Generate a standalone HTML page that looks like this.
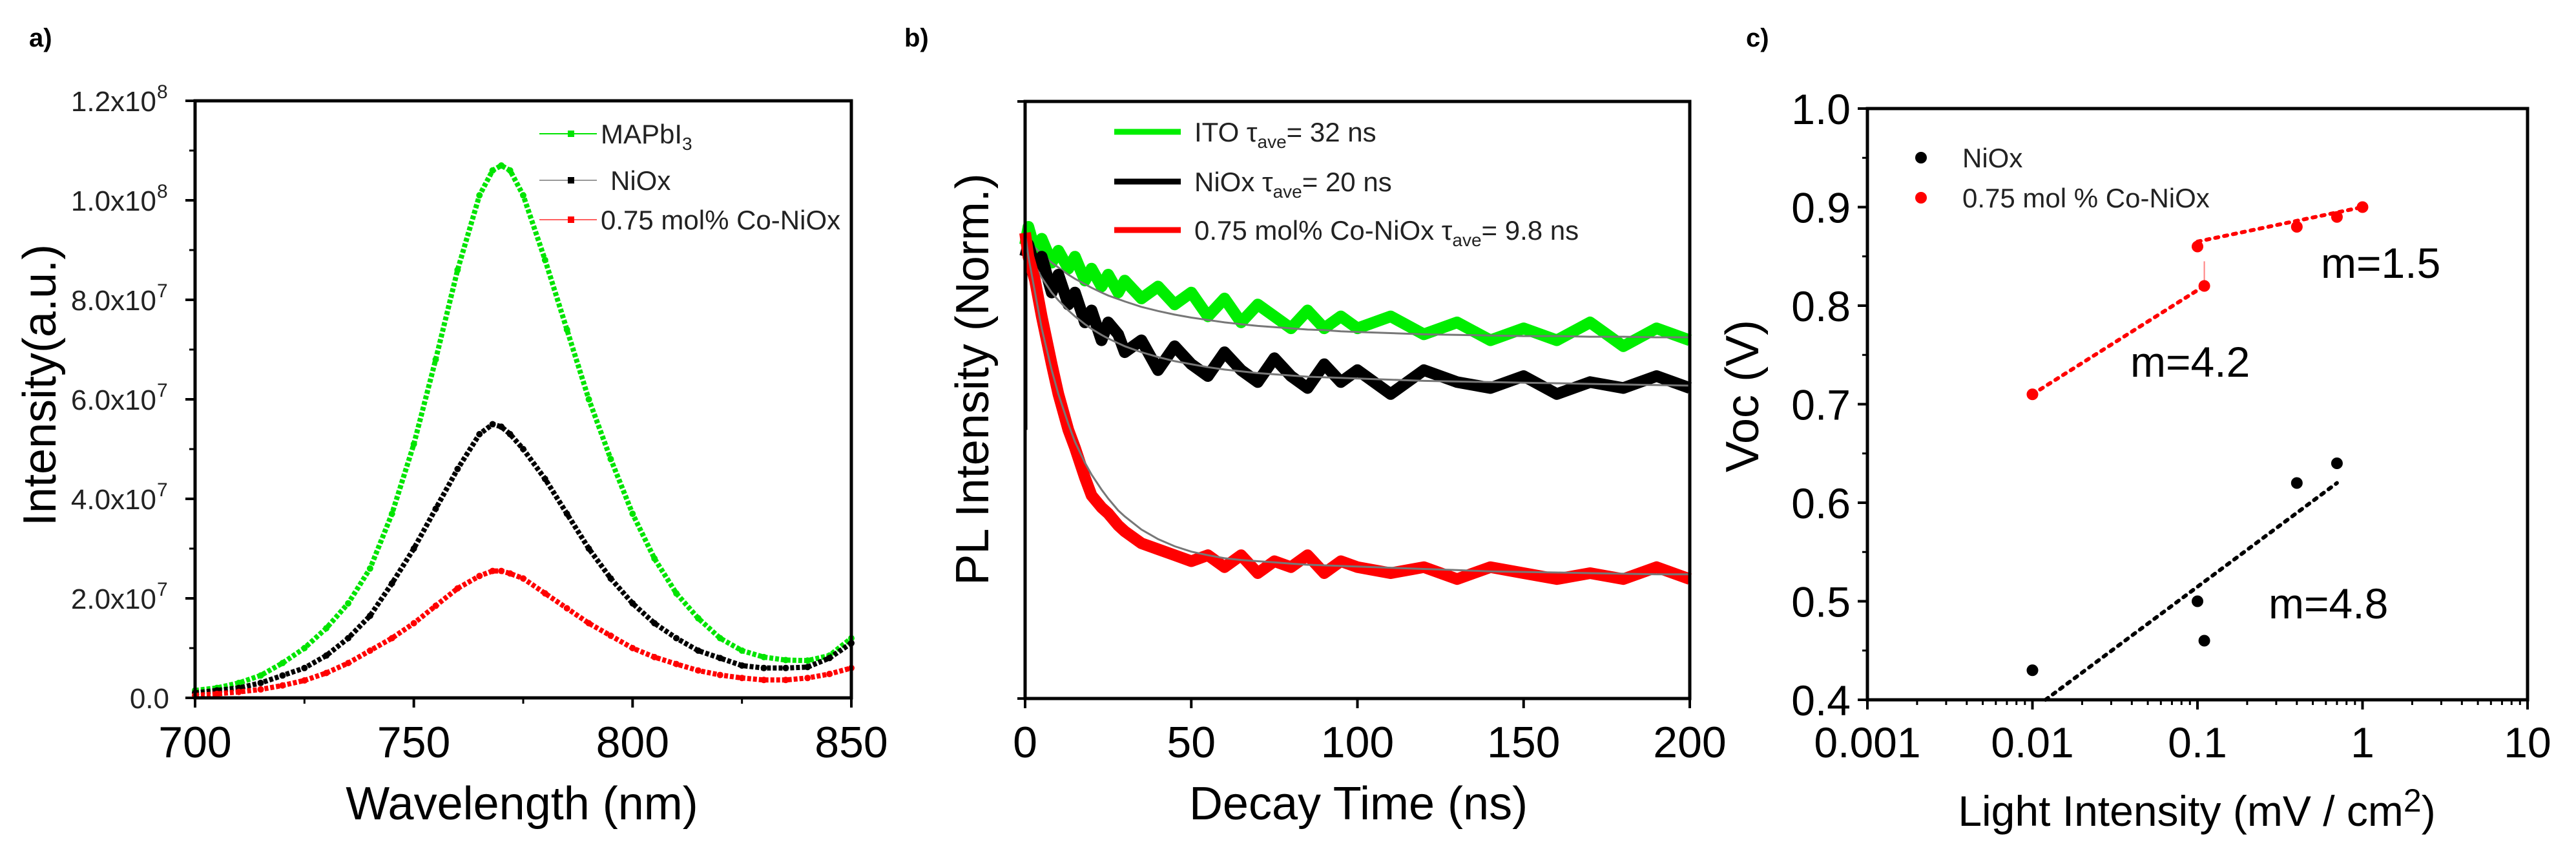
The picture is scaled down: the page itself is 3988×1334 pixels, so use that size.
<!DOCTYPE html>
<html><head><meta charset="utf-8"><style>
html,body{margin:0;padding:0;background:#fff;}
svg{display:block;font-family:"Liberation Sans",Arial,sans-serif;}
</style></head><body>
<svg id="fig" width="3988" height="1334" viewBox="0 0 3988 1334" xmlns="http://www.w3.org/2000/svg">
<rect width="3988" height="1334" fill="#fff"/>
<text x="45" y="72" font-size="40" font-weight="bold">a)</text>
<text x="1400" y="72" font-size="40" font-weight="bold">b)</text>
<text x="2703" y="72" font-size="40" font-weight="bold">c)</text>
<g id="ga"></g>
<g id="gb"></g>
<g id="gc"></g>
</svg>
<script>
// ---------- Panel a data (intensity in units of 1e7) ----------
const aWave = [700,705,710,715,720,725,730,735,740,745,750,755,760,765,768,770,772,775,780,785,790,795,800,805,810,815,820,825,830,835,840,845,850];
const aGreen = [0.15,0.2,0.3,0.45,0.7,1.0,1.4,1.9,2.6,3.7,5.1,6.8,8.6,10.1,10.6,10.7,10.6,10.1,8.8,7.4,6.0,4.8,3.7,2.8,2.1,1.6,1.2,0.95,0.82,0.76,0.75,0.85,1.2];
const aBlack = [0.1,0.15,0.2,0.3,0.45,0.6,0.85,1.2,1.65,2.3,3.0,3.8,4.6,5.3,5.5,5.45,5.3,5.0,4.4,3.7,3.0,2.4,1.9,1.5,1.2,0.95,0.8,0.65,0.6,0.6,0.62,0.8,1.1];
const aRed = [0.05,0.08,0.12,0.17,0.25,0.35,0.5,0.7,0.95,1.2,1.5,1.85,2.2,2.45,2.55,2.55,2.5,2.4,2.1,1.8,1.5,1.25,1.0,0.82,0.68,0.55,0.46,0.4,0.36,0.36,0.4,0.48,0.6];
const aYTicks = [0,2,4,6,8,10,12];
const aYLabels = ["0.0","2.0x10","4.0x10","6.0x10","8.0x10","1.0x10","1.2x10"];
const aYExp = ["","7","7","7","7","8","8"];
const aXTicks = [700,750,800,850];

// ---------- Panel b data (normalized) ----------
const bTime = [0,1,3,5,8,10,13,15,18,20,23,25,28,30,35,40,45,50,55,60,65,70,75,80,85,90,95,100,110,120,130,140,150,160,170,180,190,200];
const bGreen = [0.76,0.79,0.75,0.77,0.73,0.75,0.72,0.74,0.70,0.72,0.69,0.71,0.68,0.70,0.67,0.69,0.66,0.68,0.64,0.67,0.63,0.66,0.64,0.62,0.65,0.62,0.64,0.62,0.64,0.61,0.63,0.60,0.62,0.60,0.63,0.59,0.62,0.60];
const bGreenFit = [0.77,0.765,0.755,0.745,0.73,0.722,0.71,0.703,0.694,0.688,0.68,0.675,0.669,0.665,0.656,0.649,0.643,0.638,0.634,0.63,0.627,0.624,0.622,0.62,0.618,0.617,0.615,0.614,0.612,0.61,0.609,0.608,0.607,0.607,0.606,0.606,0.605,0.605];
const bBlack = [0.74,0.76,0.72,0.74,0.68,0.71,0.66,0.68,0.63,0.65,0.60,0.63,0.61,0.58,0.60,0.55,0.59,0.56,0.54,0.58,0.55,0.53,0.57,0.54,0.52,0.56,0.53,0.55,0.51,0.55,0.53,0.52,0.54,0.51,0.53,0.52,0.54,0.52];
const bBlackFit = [0.77,0.75,0.725,0.705,0.68,0.667,0.65,0.64,0.627,0.619,0.609,0.603,0.595,0.59,0.58,0.572,0.565,0.56,0.555,0.551,0.548,0.545,0.543,0.541,0.539,0.538,0.537,0.536,0.534,0.532,0.531,0.53,0.529,0.528,0.527,0.526,0.525,0.524];
const bRed = [0.78,0.74,0.70,0.64,0.56,0.51,0.45,0.42,0.37,0.34,0.32,0.31,0.29,0.28,0.26,0.25,0.24,0.23,0.24,0.22,0.24,0.21,0.23,0.22,0.24,0.21,0.23,0.22,0.21,0.22,0.20,0.22,0.21,0.20,0.21,0.20,0.22,0.20];
const bRedFit = [0.78,0.74,0.68,0.62,0.55,0.51,0.46,0.43,0.395,0.375,0.35,0.335,0.315,0.305,0.283,0.267,0.255,0.246,0.24,0.235,0.232,0.23,0.228,0.226,0.224,0.223,0.222,0.221,0.219,0.217,0.215,0.213,0.212,0.211,0.21,0.209,0.208,0.208];
const bXTicks = [0,50,100,150,200];

// ---------- Panel c data ----------
const cNiX = [0.01,0.1,0.11,0.4,0.7];
const cNiY = [0.43,0.50,0.46,0.62,0.64];
const cCoX = [0.01,0.11,0.1,0.4,0.7,1];
const cCoY = [0.71,0.82,0.86,0.88,0.89,0.90];
const cNiFitX = [0.012,0.7];
const cNiFitY = [0.40,0.62];
const cCoFit1X = [0.01,0.11];
const cCoFit1Y = [0.71,0.82];
const cCoFit2X = [0.1,1];
const cCoFit2Y = [0.865,0.90];
const cXTicks = [0.001,0.01,0.1,1,10];
const cXLabels = ["0.001","0.01","0.1","1","10"];
const cYTicks = [0.4,0.5,0.6,0.7,0.8,0.9,1.0];

const NS = "http://www.w3.org/2000/svg";
function mk(parent, tag, attrs, text){
  const e = document.createElementNS(NS, tag);
  for (const k in attrs) e.setAttribute(k, attrs[k]);
  if (text !== undefined) e.textContent = text;
  parent.appendChild(e);
  return e;
}
function pts(xs, ys, fx, fy){ return xs.map((x,i)=>fx(x).toFixed(1)+","+fy(ys[i]).toFixed(1)).join(" "); }

// ================= Panel a =================
(function(){
  const g = document.getElementById('ga');
  const L=302,R=1318,T=156,B=1080;
  const fx = v => L + (v-700)/150*(R-L);
  const fy = v => B - v/12*(B-T);
  const series = [[aGreen,'#00e400','#ff4040','green'],[aBlack,'#000','#888','black'],[aRed,'#ff0000','#ff6060','red']];
  series.forEach(s=>{
    const pl = mk(g,'polyline',{points:pts(aWave,s[0],fx,fy),fill:'none',stroke:s[1],'stroke-width':8,'stroke-dasharray':'6 3'});
    
    
    aWave.forEach((w,i)=>{
      const c = mk(g,'circle',{cx:fx(w),cy:fy(s[0][i]),r:5,fill:s[1]});
      
      
    });
  });
  const ax = mk(g,'rect',{x:L,y:T,width:R-L,height:B-T,fill:'none',stroke:'#000','stroke-width':5});
  
  
  aXTicks.forEach(t=>{
    mk(g,'line',{x1:fx(t),x2:fx(t),y1:B,y2:B+15,stroke:'#000','stroke-width':4});
    const tx = mk(g,'text',{x:fx(t),y:1172,'font-size':68,'text-anchor':'middle'},String(t));
    
    
  });
  [725,775,825].forEach(t=>mk(g,'line',{x1:fx(t),x2:fx(t),y1:B,y2:B+9,stroke:'#000','stroke-width':3}));
  aYTicks.forEach((t,i)=>{
    mk(g,'line',{x1:L-15,x2:L,y1:fy(t),y2:fy(t),stroke:'#000','stroke-width':4});
    mk(g,'line',{x1:L-9,x2:L,y1:fy(t+1),y2:fy(t+1),stroke:'#000','stroke-width':3,opacity:t<12?1:0});
    const tx = mk(g,'text',{x:aYExp[i]?242:262,y:fy(t)+16,'font-size':44,'text-anchor':'end',fill:'#222'},aYLabels[i]);
    
    
    if(aYExp[i]){ mk(g,'text',{x:243,y:fy(t)-4,'font-size':30,fill:'#222'},aYExp[i]); }
  });
  const xt = mk(g,'text',{x:808,y:1268,'font-size':72,'text-anchor':'middle'},'Wavelength (nm)');
  
  
  const yt = mk(g,'text',{x:0,y:0,'font-size':72,'text-anchor':'middle',transform:'translate(86,596) rotate(-90)'},'Intensity(a.u.)');
  
  
  const leg = [['MAPbI','3','#00e400',207,930,'#00e400'],['NiOx','','#000',279,945,'#999'],['0.75 mol% Co-NiOx','','#ff0000',340,930,'#ff6060']];
  leg.forEach(l=>{
    mk(g,'line',{x1:835,x2:924,y1:l[3],y2:l[3],stroke:l[5],'stroke-width':2});
    mk(g,'rect',{x:879,y:l[3]-5,width:10,height:10,fill:l[2]});
    const tx = mk(g,'text',{x:l[4],y:l[3]+15,'font-size':42,fill:'#222'},l[0]);
    
    
    if(l[1]) mk(tx,'tspan',{'font-size':28,dy:10},l[1]);
  });
})();

// ================= Panel b =================
(function(){
  const g = document.getElementById('gb');
  const L=1587,R=2616,T=157,B=1081;
  const fx = v => L + v/200*(R-L);
  const fy = v => B - v*(B-T);
  mk(g,'line',{x1:fx(0.3),x2:fx(0.3),y1:fy(0.45),y2:fy(0.78),stroke:'#000','stroke-width':4});
  [[bGreen,bGreenFit,'#00ee00','green'],[bBlack,bBlackFit,'#000','black'],[bRed,bRedFit,'#ff0000','red']].forEach(s=>{
    const pl = mk(g,'polyline',{points:pts(bTime,s[0],fx,fy),fill:'none',stroke:s[2],'stroke-width':18,'stroke-linejoin':'round'});
    
    
    const ft = mk(g,'polyline',{points:pts(bTime,s[1],fx,fy),fill:'none',stroke:'#777','stroke-width':3});
    
    
  });
  const ax = mk(g,'rect',{x:L,y:T,width:R-L,height:B-T,fill:'none',stroke:'#000','stroke-width':5});
  
  
  mk(g,'line',{x1:L-12,x2:L,y1:T,y2:T,stroke:'#000','stroke-width':4});
  mk(g,'line',{x1:L-12,x2:L,y1:B,y2:B,stroke:'#000','stroke-width':4});
  bXTicks.forEach(t=>{
    mk(g,'line',{x1:fx(t),x2:fx(t),y1:B,y2:B+15,stroke:'#000','stroke-width':4});
    const tx = mk(g,'text',{x:fx(t),y:1172,'font-size':68,'text-anchor':'middle'},String(t));
    
    
  });
  const xt = mk(g,'text',{x:2103,y:1268,'font-size':72,'text-anchor':'middle'},'Decay Time (ns)');
  
  
  const yt = mk(g,'text',{x:0,y:0,'font-size':72,'text-anchor':'middle',transform:'translate(1530,587) rotate(-90)'},'PL Intensity (Norm.)');
  
  
  [['ITO ','= 32 ns','#00ee00',204],['NiOx ','= 20 ns','#000',281],['0.75 mol% Co-NiOx ','= 9.8 ns','#ff0000',356]].forEach(l=>{
    mk(g,'line',{x1:1725,x2:1828,y1:l[3],y2:l[3],stroke:l[2],'stroke-width':9});
    const tx = mk(g,'text',{x:1849,y:l[3]+15,'font-size':42,fill:'#222'},l[0]+'τ');
    
    
    mk(tx,'tspan',{'font-size':28,dy:10},'ave');
    mk(tx,'tspan',{dy:-10},l[1]);
  });
})();

// ================= Panel c =================
(function(){
  const g = document.getElementById('gc');
  const L=2891,R=3913,T=168,B=1083;
  const fx = v => L + (Math.log10(v)+3)/4*(R-L);
  const fy = v => B - (v-0.4)/0.6*(B-T);
  [[cNiFitX,cNiFitY,'#000','fit-line-niox'],[cCoFit1X,cCoFit1Y,'#ff0000','fit-line-co-low'],[cCoFit2X,cCoFit2Y,'#ff0000','fit-line-co-high']].forEach(s=>{
    const ln = mk(g,'line',{x1:fx(s[0][0]),y1:fy(s[1][0]),x2:fx(s[0][1]),y2:fy(s[1][1]),stroke:s[2],'stroke-width':6,'stroke-dasharray':'5 9','stroke-linecap':'round'});
    
    
  });
  mk(g,'line',{x1:fx(0.11),x2:fx(0.11),y1:fy(0.82),y2:fy(0.845),stroke:'#ff8080','stroke-width':2});
  cNiX.forEach((x,i)=>{
    const c = mk(g,'circle',{cx:fx(x),cy:fy(cNiY[i]),r:9,fill:'#000'});
    
    
  });
  cCoX.forEach((x,i)=>{
    const c = mk(g,'circle',{cx:fx(x),cy:fy(cCoY[i]),r:9,fill:'#ff0000'});
    
    
  });
  const ax = mk(g,'rect',{x:L,y:T,width:R-L,height:B-T,fill:'none',stroke:'#000','stroke-width':5});
  
  
  cXTicks.forEach((t,i)=>{
    mk(g,'line',{x1:fx(t),x2:fx(t),y1:B,y2:B+15,stroke:'#000','stroke-width':4});
    const tx = mk(g,'text',{x:fx(t),y:1172,'font-size':66,'text-anchor':'middle'},cXLabels[i]);
    
    
    if(i<4){ for(let k=2;k<10;k++){ const v=t*k; mk(g,'line',{x1:fx(v),x2:fx(v),y1:B,y2:B+8,stroke:'#000','stroke-width':3}); } }
  });
  cYTicks.forEach((t,i)=>{
    mk(g,'line',{x1:L-15,x2:L,y1:fy(t),y2:fy(t),stroke:'#000','stroke-width':4});
    if(i<6) mk(g,'line',{x1:L-8,x2:L,y1:fy(t+0.05),y2:fy(t+0.05),stroke:'#000','stroke-width':3});
    const tx = mk(g,'text',{x:2865,y:fy(t)+24,'font-size':66,'text-anchor':'end'},t.toFixed(1));
    
    
  });
  const xt = mk(g,'text',{x:3401,y:1278,'font-size':66,'text-anchor':'middle'},'Light Intensity (mV / cm');
  
  
  mk(xt,'tspan',{dy:-22,'font-size':50},'2');
  mk(xt,'tspan',{dy:22},')');
  const yt = mk(g,'text',{x:0,y:0,'font-size':72,'text-anchor':'middle',transform:'translate(2722,613) rotate(-90)'},'Voc (V)');
  
  
  [['NiOx','#000',244],['0.75 mol % Co-NiOx','#ff0000',306]].forEach(l=>{
    mk(g,'circle',{cx:2974,cy:l[2],r:9,fill:l[1]});
    const tx = mk(g,'text',{x:3038,y:l[2]+15,'font-size':42,fill:'#222'},l[0]);
    
    
  });
  [['m=1.5',3593,430],['m=4.2',3298,583],['m=4.8',3512,957]].forEach(a=>{
    const tx = mk(g,'text',{x:a[1],y:a[2],'font-size':66},a[0]);
    
    
  });
})();
</script>
</body></html>
